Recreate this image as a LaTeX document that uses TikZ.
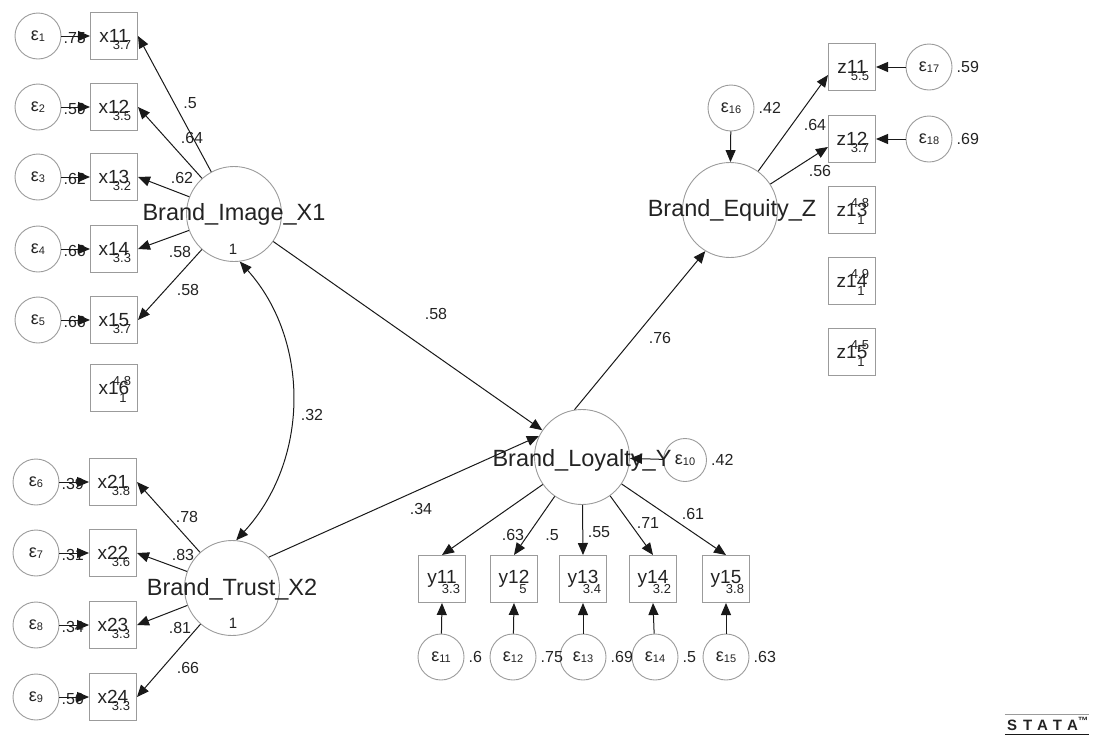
\documentclass[tikz,border=0pt]{standalone}
\usepackage{fontspec}
\setmainfont{Liberation Sans}
\usetikzlibrary{arrows.meta,calc}
\definecolor{outl}{RGB}{155,155,155}
\definecolor{txt}{RGB}{35,35,35}
\definecolor{lnc}{RGB}{25,25,25}
\newcommand{\epsl}[1]{ε\raisebox{-1.5pt}{\fontsize{11}{11}\selectfont #1}}
\begin{document}
\begin{tikzpicture}[x=1pt,y=-1pt,
  obs/.style={draw=outl, line width=1pt, minimum width=47pt, minimum height=47pt, inner sep=0pt,
    font=\fontsize{19}{19}\selectfont, text=txt},
  err/.style={draw=outl, line width=0.9pt, circle, minimum size=46pt, inner sep=0pt,
    font=\fontsize{18}{18}\selectfont, text=txt},
  lat/.style={draw=outl, line width=0.9pt, circle, minimum size=95pt, inner sep=0pt},
  big/.style={font=\fontsize{23.5}{23.5}\selectfont, text=txt, inner sep=0pt},
  sm/.style={font=\fontsize{13}{13}\selectfont, text=txt, inner sep=0pt},
  lab/.style={font=\fontsize{16}{16}\selectfont, text=txt, inner sep=0pt},
  arr/.style={draw=lnc, line width=1pt, -{Triangle[length=12pt,width=10pt]}},
  cov/.style={draw=lnc, line width=1pt, {Triangle[length=12pt,width=10pt]}-{Triangle[length=12pt,width=10pt]}},
]
\useasboundingbox (0,0) rectangle (1102,737);

% ---------- latent variables ----------
\node[lat] (BI) at (234,214) {};
\node[lat] (BT) at (232,588) {};
\node[lat] (BL) at (582,457) {};
\node[lat] (BE) at (730,210) {};

% ---------- observed variables ----------
\foreach \n/\y in {11/36,12/107,13/177,14/249,15/320}{
  \node[obs] (x\n) at (114,\y) {x\n};
}
\node[obs] (x16) at (114,388) {x16};
\foreach \n/\y in {21/482,22/553,23/625,24/697}{
  \node[obs] (x\n) at (113,\y) {x\n};
}
\foreach \n/\x in {11/442,12/514,13/583,14/653,15/726}{
  \node[obs] (y\n) at (\x,579) {y\n};
}
\foreach \n/\y in {11/67,12/139,13/210,14/281,15/352}{
  \node[obs] (z\n) at (852,\y) {z\n};
}

% ---------- error terms ----------
\foreach \i/\y in {1/36,2/107,3/177,4/249,5/320}{
  \node[err] (e\i) at (38,\y) {\epsl{\i}};
}
\foreach \i/\y in {6/482,7/553,8/625,9/697}{
  \node[err] (e\i) at (36,\y) {\epsl{\i}};
}
\foreach \i/\x in {11/441,12/513,13/583,14/655,15/726}{
  \node[err] (e\i) at (\x,657) {\epsl{\i}};
}
\node[err, minimum size=43pt] (e10) at (685,460) {\epsl{10}};
\node[err] (e16) at (731,108) {\epsl{16}};
\node[err] (e17) at (929,67) {\epsl{17}};
\node[err] (e18) at (929,139) {\epsl{18}};

% ---------- latent labels ----------
\node[big] (tBI) at (234,214) {Brand\_Image\_X1};
\node[big] (tBT) at (232,589) {Brand\_Trust\_X2};
\node[big] (tBL) at (582,460) {Brand\_Loyalty\_Y};
\node[big] (tBE) at (732,210) {Brand\_Equity\_Z};
\node[sm, font=\fontsize{15}{15}\selectfont] (vBI) at (233,249) {1};
\node[sm, font=\fontsize{15}{15}\selectfont] (vBT) at (233,623) {1};

% ---------- intercepts ----------
\foreach \n/\v in {11/3.7,12/3.5,13/3.2,14/3.3,15/3.7,21/3.8,22/3.6,23/3.3,24/3.3}{
  \node[sm] (ix\n) at ($(x\n)+(8,9)$) {\v};
}
\foreach \n/\v in {11/3.3,12/5,13/3.4,14/3.2,15/3.8}{
  \node[sm] (iy\n) at ($(y\n)+(9,10)$) {\v};
}
\node[sm] (iz11) at ($(z11)+(8,9)$) {5.5};
\node[sm] (iz12) at ($(z12)+(8,9)$) {3.7};
\foreach \b/\v in {x16/4.8,z13/4.8,z14/4.9,z15/4.5}{
  \node[sm] (m\b) at ($(\b)+(8,-7)$) {\v};
  \node[sm] (s\b) at ($(\b)+(9,10)$) {1};
}

% ---------- error variances ----------
\foreach \i/\v in {1/.75,2/.59,3/.62,4/.66,5/.66,6/.39,7/.31,8/.34,9/.56}{
  \node[lab, anchor=west] (ve\i) at ($(e\i.east)+(2,2)$) {\v};
}
\foreach \i/\v in {11/.6,12/.75,13/.69,14/.5,15/.63,10/.42,16/.42,17/.59,18/.69}{
  \node[lab, anchor=west] (ve\i) at ($(e\i.east)+(4,0)$) {\v};
}

% ---------- measurement arrows ----------
\foreach \i/\n in {1/11,2/12,3/13,4/14,5/15,6/21,7/22,8/23,9/24}{
  \draw[arr] (e\i) -- (x\n.west);
}
\foreach \n in {11,12,13,14,15}{
  \draw[arr] (BI) -- (x\n.east);
  \draw[arr] (BL) -- (y\n.north);
}
\foreach \n in {21,22,23,24}{
  \draw[arr] (BT) -- (x\n.east);
}
\foreach \i in {11,12,13,14,15}{
  \draw[arr] (e\i) -- (y\i.south);
}
\draw[arr] (BE) -- ($(z11.west)+(0,8)$);
\draw[arr] (BE) -- ($(z12.west)+(0,8)$);
\draw[arr] (e17) -- (z11.east);
\draw[arr] (e18) -- (z12.east);
\draw[arr] (e16) -- (BE);
\draw[arr] (e10) -- (BL);

% ---------- structural paths ----------
\draw[arr] (BI) -- (BL.146);
\draw[arr] (BT.40) -- (BL.154);
\draw[arr] (BL.99) -- (BE.239);
\draw[cov] (BI.277) .. controls (310,340) and (310,460) .. (BT.85);

% ---------- path coefficients ----------
\node[lab] (l11) at (190,103) {.5};
\node[lab] (l12) at (192,138) {.64};
\node[lab] (l13) at (182,178) {.62};
\node[lab] (l14) at (180,252) {.58};
\node[lab] (l15) at (188,290) {.58};
\node[lab] (l21) at (187,517) {.78};
\node[lab] (l22) at (183,555) {.83};
\node[lab] (l23) at (180,628) {.81};
\node[lab] (l24) at (188,668) {.66};
\node[lab] (lcov) at (312,415) {.32};
\node[lab] (lBIBL) at (436,314) {.58};
\node[lab] (lBTBL) at (421,509) {.34};
\node[lab] (lBLBE) at (660,338) {.76};
\node[lab] (ly11) at (513,535) {.63};
\node[lab] (ly12) at (552,535) {.5};
\node[lab] (ly13) at (599,532) {.55};
\node[lab] (ly14) at (648,523) {.71};
\node[lab] (ly15) at (693,514) {.61};
\node[lab] (lz11) at (815,125) {.64};
\node[lab] (lz12) at (820,171) {.56};

% ---------- logo ----------
\node[inner sep=0pt, text=txt, font=\fontsize{15}{15}\bfseries\addfontfeature{LetterSpace=40}] (logo) at (1048,724) {STATA\textsuperscript{™}};
\draw[outl, line width=1pt] (logo.north west)+(-2,-3) coordinate (lt1) -- (lt1 -| logo.north east);
\draw[lnc, line width=1.2pt] (logo.south west)+(-2,4) coordinate (lb1) -- (lb1 -| logo.south east);
\end{tikzpicture}
\end{document}
